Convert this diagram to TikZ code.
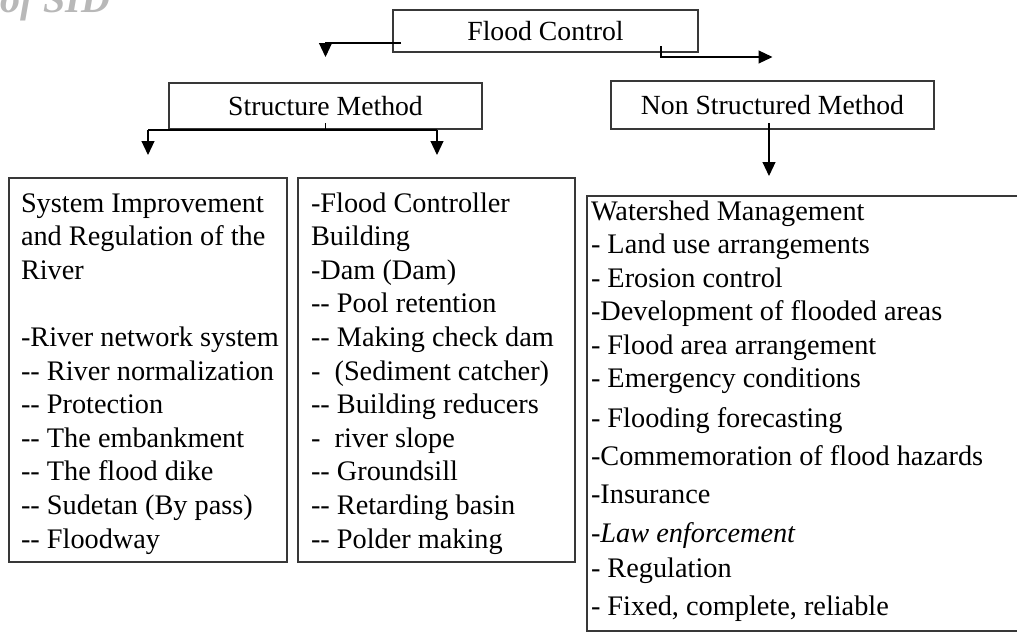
\documentclass[tikz,border=0pt]{standalone}
\usepackage{fontspec}
\setmainfont{Liberation Serif}[Ligatures=TeXOff]
\usetikzlibrary{arrows.meta,calc}
\begin{document}
\begin{tikzpicture}[x=1pt,y=-1pt,
  box/.style={draw=black!78, line width=1.1pt, inner sep=0pt, outer sep=0pt},
  head/.style={box, font=\fontsize{27.7}{33}\selectfont},
  body/.style={inner sep=0pt, outer sep=0pt, anchor=base west},
  arr/.style={draw=black, line width=1.1pt, -{Triangle[length=14pt,width=13pt]}},
  ln/.style={draw=black, line width=1.1pt}]
\useasboundingbox (0,0) rectangle (1017,632);
\clip (0,0) rectangle (1017,632);

% watermark
\node[font=\fontsize{40}{40}\selectfont\bfseries\itshape, text=black!28, anchor=base west, inner sep=0pt] (wm) at (0,12) {of SID};

% header boxes
\node[head, minimum width=305pt, minimum height=42pt] (fc) at (545.5,31) {Flood Control};
\node[head, minimum width=313pt, minimum height=46pt] (sm) at (325.5,106) {Structure Method};
\node[head, minimum width=323pt, minimum height=48pt] (ns) at (772.5,105) {Non Structured Method};

% content boxes
\node[box, minimum width=278pt, minimum height=384pt] (lb) at (148,370) {};
\node[box, minimum width=277pt, minimum height=384pt] (mb) at (436.5,370) {};
\node[box, minimum width=450pt, minimum height=435pt] (rb) at (812,413.5) {};

% texts
\node[body] (lt) at (21,212) {\parbox[t]{265pt}{\raggedright\fontsize{28.3}{33.6}\selectfont
System Improvement\\
and Regulation of the\\
River\\[33.6pt]
-River network system\\
-- River normalization\\
-- Protection\\
-- The embankment\\
-- The flood dike\\
-- Sudetan (By pass)\\
-- Floodway}};

\node[body] (mt) at (311,212) {\parbox[t]{262pt}{\raggedright\fontsize{28.3}{33.6}\selectfont
-Flood Controller\\
Building\\
-Dam (Dam)\\
-- Pool retention\\
-- Making check dam\\
-\ \ (Sediment catcher)\\
-- Building reducers\\
-\ \ river slope\\
-- Groundsill\\
-- Retarding basin\\
-- Polder making}};

\node[body] (rt) at (591,220) {\parbox[t]{420pt}{\raggedright\fontsize{28.3}{33.5}\selectfont
Watershed Management\\
- Land use arrangements\\
- Erosion control\\
-Development of flooded areas\\
- Flood area arrangement\\
- Emergency conditions\\[6pt]
- Flooding forecasting\\[4.5pt]
-Commemoration of flood hazards\\[4.5pt]
-Insurance\\[5.5pt]
\textit{-Law enforcement}\\[1.5pt]
- Regulation\\[4.5pt]
- Fixed, complete, reliable}};

% connectors
\coordinate (smin) at ($(sm.north)+(0,-26)$);
\coordinate (nsin) at ($(ns.north)+(0,-24)$);
\draw[arr] ($(fc.west)+(8,12)$) -| (smin);
\draw[arr] ($(fc.south east)+(-37,-6)$) |- (nsin);

\coordinate (sl) at ($(sm.south west)+(-21,1)$);
\coordinate (sr) at ($(sm.south east)+(-45,1)$);
\coordinate (lbin) at ($(lb.north)+(0,-23)$);
\coordinate (mbin) at ($(mb.north)+(0.5,-23)$);
\draw[ln] (sl) -- (sr);
\draw[ln] ($(sm.south)+(0,-6)$) -- ($(sm.south)+(0,1)$);
\draw[arr] (sl) -- (lbin);
\draw[arr] (sr) -- (mbin);

\coordinate (rbin) at ($(ns.south)+(-3.5,47)$);
\draw[arr] ($(ns.south)+(-3.5,-6)$) -- (rbin);
\end{tikzpicture}
\end{document}
